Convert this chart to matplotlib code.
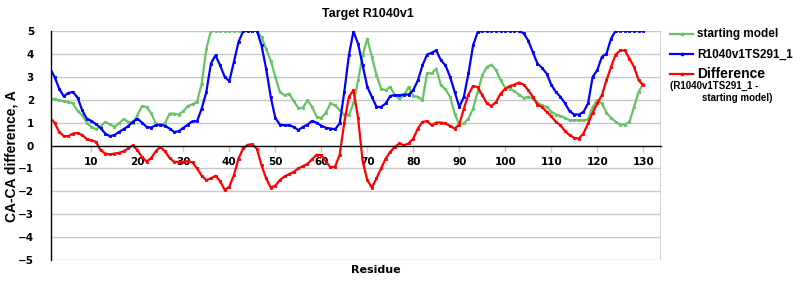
import numpy as np
import matplotlib
matplotlib.use("Agg")
import matplotlib.pyplot as plt
from matplotlib.lines import Line2D

residues = list(range(1, 131))

starting_model = [
    1.97, 2.04, 1.96, 1.93, 1.90, 1.83, 1.51, 1.32, 1.00, 0.81,
    0.71, 0.81, 1.03, 0.93, 0.81, 0.96, 1.14, 1.03, 0.96, 1.32,
    1.71, 1.68, 1.41, 0.96, 0.88, 0.96, 1.39, 1.39, 1.35, 1.49,
    1.72, 1.80, 1.90, 2.70, 4.20, 5.00, 5.00, 5.00, 5.00, 5.00,
    5.00, 5.00, 5.00, 5.00, 5.00, 5.00, 4.72, 4.20, 3.70, 3.00,
    2.33, 2.19, 2.26, 1.93, 1.64, 1.64, 1.97, 1.68, 1.25, 1.20,
    1.43, 1.83, 1.75, 1.54, 1.35, 1.32, 1.83, 2.84, 3.93, 4.65,
    3.86, 3.06, 2.48, 2.41, 2.55, 2.19, 2.04, 2.19, 2.55, 2.16,
    2.12, 1.97, 3.14, 3.14, 3.35, 2.62, 2.45, 2.12, 1.39, 0.91,
    0.96, 1.17, 1.61, 2.33, 3.06, 3.42, 3.52, 3.28, 2.84, 2.51,
    2.48, 2.36, 2.22, 2.07, 2.12, 2.04, 1.87, 1.75, 1.68, 1.48,
    1.35, 1.29, 1.20, 1.10, 1.10, 1.10, 1.10, 1.14, 1.68, 1.97,
    1.83, 1.43, 1.20, 1.03, 0.91, 0.91, 1.03, 1.68, 2.33, 2.70,
]

model_ts291 = [
    3.35, 2.99, 2.48, 2.14, 2.29, 2.33, 2.09, 1.54, 1.17, 1.07,
    0.93, 0.77, 0.52, 0.41, 0.45, 0.59, 0.71, 0.84, 1.03, 1.17,
    1.00, 0.81, 0.78, 0.88, 0.91, 0.86, 0.74, 0.59, 0.62, 0.77,
    0.91, 1.06, 1.06, 1.61, 2.33, 3.57, 3.93, 3.49, 2.99, 2.80,
    3.64, 4.51, 4.97, 5.00, 5.00, 5.00, 4.36, 3.35, 2.12, 1.20,
    0.91, 0.88, 0.88, 0.81, 0.67, 0.81, 0.91, 1.07, 0.99, 0.86,
    0.77, 0.74, 0.71, 0.96, 2.33, 3.93, 4.97, 4.43, 3.49, 2.55,
    2.12, 1.68, 1.68, 1.83, 2.16, 2.19, 2.19, 2.22, 2.22, 2.41,
    2.84, 3.49, 3.96, 4.04, 4.14, 3.71, 3.49, 2.99, 2.33, 1.68,
    2.12, 3.14, 4.36, 4.94, 5.00, 5.00, 5.00, 5.00, 5.00, 5.00,
    5.00, 5.00, 5.00, 4.88, 4.57, 4.06, 3.57, 3.38, 3.13, 2.65,
    2.33, 2.12, 1.83, 1.49, 1.35, 1.35, 1.46, 1.83, 2.99, 3.28,
    3.86, 4.00, 4.65, 5.00, 5.00, 5.00, 5.00, 5.00, 5.00, 5.00,
]

difference = [
    1.20, 1.00, 0.59, 0.41, 0.41, 0.52, 0.55, 0.45, 0.28, 0.22,
    0.16, -0.20, -0.35, -0.39, -0.35, -0.32, -0.25, -0.13, 0.01, -0.20,
    -0.49, -0.70, -0.55, -0.25, -0.06, -0.25, -0.54, -0.71, -0.71, -0.71,
    -0.68, -0.74, -1.00, -1.32, -1.51, -1.43, -1.32, -1.55, -1.94, -1.80,
    -1.29, -0.57, -0.13, 0.03, 0.06, -0.15, -0.86, -1.43, -1.83, -1.75,
    -1.50, -1.35, -1.25, -1.15, -1.00, -0.90, -0.80, -0.60, -0.40, -0.42,
    -0.70, -0.95, -0.92, -0.40, 1.00, 2.12, 2.41, 1.20, -0.70, -1.50,
    -1.84, -1.43, -1.00, -0.57, -0.28, -0.06, 0.09, 0.01, 0.09, 0.30,
    0.74, 1.03, 1.06, 0.88, 1.00, 1.00, 0.96, 0.85, 0.74, 0.91,
    1.61, 2.22, 2.59, 2.55, 2.19, 1.83, 1.72, 1.90, 2.26, 2.48,
    2.59, 2.65, 2.74, 2.65, 2.41, 2.12, 1.78, 1.68, 1.46, 1.27,
    1.03, 0.88, 0.62, 0.45, 0.33, 0.30, 0.52, 0.96, 1.43, 1.83,
    2.19, 2.84, 3.42, 3.96, 4.14, 4.14, 3.78, 3.42, 2.84, 2.62,
]

xticks = list(range(10, 131, 10))
yticks = list(range(-5, 6))

green = "#66c466"
blue = "#0000ff"
red = "#ff0000"
grid_grey = "#c8c8c8"

fig = plt.figure(figsize=(8, 3), dpi=100)
ax = fig.add_axes([0.0634, 0.1323, 0.7625, 0.7654])

for y in yticks:
    if y != 0:
        ax.axhline(y, color=grid_grey, lw=1.0, zorder=0)

style = dict(lw=1.6, marker="s", markersize=1.6, markeredgewidth=0.6, clip_on=True)
ax.plot(residues, starting_model, color=green, **style)
ax.plot(residues, model_ts291, color=blue, **style)
ax.plot(residues, difference, color=red, **style)

ax.set_xlim(1.17, 133.8)
ax.set_ylim(-5, 5)

# frame: black left axis, zero line as x axis, grey box right/bottom
for s in ["top", "right", "bottom", "left"]:
    ax.spines[s].set_visible(False)
ax.spines["left"].set_visible(True)
ax.spines["left"].set_color("black")
ax.spines["left"].set_linewidth(1.0)
ax.spines["bottom"].set_visible(True)
ax.spines["bottom"].set_position(("data", 0))
ax.spines["bottom"].set_color("black")
ax.spines["bottom"].set_linewidth(1.0)
ax.axvline(133.8, color=grid_grey, lw=1.2, zorder=0)

ax.set_xticks(xticks)
ax.set_yticks(yticks)
ax.set_yticklabels([str(v).replace("-", "\u2212") for v in yticks])
ax.tick_params(axis="x", length=4, width=1, color=grid_grey, pad=4,
               labelsize=7.5)
ax.tick_params(axis="y", length=0, pad=12, labelsize=7.5)
for lab in ax.get_xticklabels() + ax.get_yticklabels():
    lab.set_fontweight("bold")
    lab.set_family("DejaVu Sans")

fig.text(0.46, 0.952, "Target R1040v1", ha="center", va="center",
         fontsize=9, fontweight="bold", family="Liberation Sans")
fig.text(0.47, 0.1, "Residue", ha="center", va="center",
         fontsize=8, fontweight="bold", family="DejaVu Sans")
fig.text(0.014, 0.48, "CA-CA difference, A", rotation=90, ha="center",
         va="center", fontsize=10, fontweight="bold", family="Liberation Sans")

# legend
legend_items = [("starting model", green, 34.3),
                ("R1040v1TS291_1", blue, 54.3),
                ("Difference", red, 74.0)]
for text, col, ypix in legend_items:
    yf = 1 - ypix / 300
    fig.add_artist(Line2D([670 / 800, 693 / 800], [yf, yf], color=col,
                          lw=1.6, transform=fig.transFigure))
    fig.add_artist(Line2D([681.5 / 800], [yf], color=col, marker="s",
                          markersize=2, transform=fig.transFigure))
    fig.text(697 / 800, yf, text, ha="left", va="center",
             fontsize=10 if text == "Difference" else 8.5,
             fontweight="bold", family="Liberation Sans")
fig.text(670 / 800, 1 - 86 / 300, "(R1040v1TS291_1 -", ha="left",
         va="center", fontsize=7, fontweight="bold", family="Liberation Sans")
fig.text(702 / 800, 1 - 97.7 / 300, "starting model)", ha="left",
         va="center", fontsize=7, fontweight="bold", family="Liberation Sans")

fig.savefig("out.png", dpi=100)
